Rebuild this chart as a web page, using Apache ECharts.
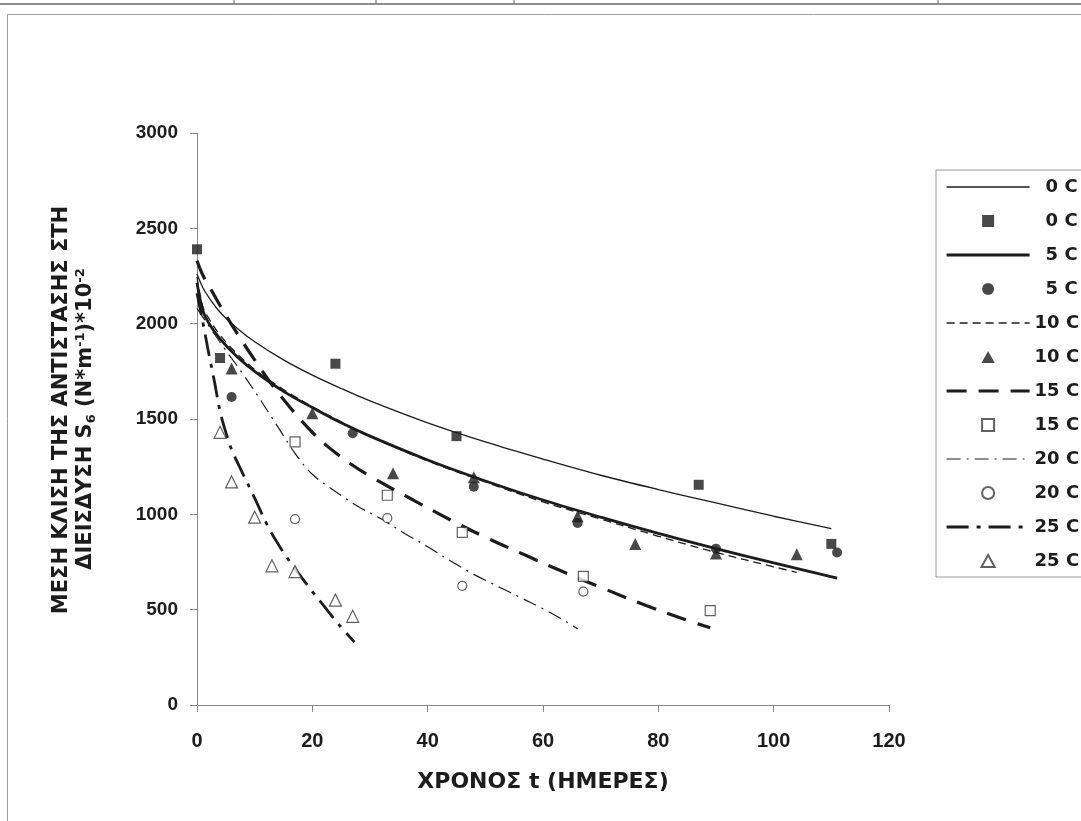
<!DOCTYPE html>
<html><head><meta charset="utf-8">
<script src="https://cdn.jsdelivr.net/npm/echarts@6/dist/echarts.min.js"></script>
<style>html,body{margin:0;padding:0;background:#fff}#c{width:1081px;height:821px}</style>
</head><body><div id="c"></div>
<script>
// ---- data ----
const xAxisMin = 0, xAxisMax = 120, xStep = 20;
const yAxisMin = 0, yAxisMax = 3000, yStep = 500;
const legendLabels = ['0 C','0 C','5 C','5 C','10 C','10 C','15 C','15 C','20 C','20 C','25 C','25 C'];

// measured points (days, value)
const pts0  = [[0,2390],[4,1820],[24,1790],[45,1410],[87,1155],[110,845]];
const pts5  = [[6,1615],[27,1425],[48,1145],[66,955],[90,820],[111,800]];
const pts10 = [[6,1765],[20,1530],[34,1215],[48,1195],[66,990],[76,845],[90,795],[104,790]];
const pts15 = [[17,1380],[33,1100],[46,905],[67,675],[89,495]];
const pts20 = [[17,975],[33,980],[46,625],[67,595]];
const pts25 = [[4,1430],[6,1170],[10,985],[13,730],[17,700],[24,550],[27,465]];

// fitted curves (days, value)
const fit0  = [[0,2260],[1,2190],[2,2140],[4,2060],[7,1975],[10,1905],[15,1810],[20,1730],[25,1660],[30,1595],[40,1480],[50,1380],[60,1290],[70,1205],[80,1130],[90,1060],[100,990],[110,925]];
const fit5  = [[0,2215],[1,2070],[2,2005],[4,1920],[7,1825],[10,1750],[15,1645],[20,1560],[25,1480],[30,1410],[40,1285],[50,1175],[60,1075],[70,985],[80,900],[90,820],[100,745],[111,665]];
const fit10 = [[0,2245],[1,2090],[2,2030],[4,1940],[7,1840],[10,1760],[15,1655],[20,1565],[25,1485],[30,1410],[40,1280],[50,1170],[60,1065],[70,975],[80,885],[90,800],[100,725],[104,695]];
const fit15 = [[0,2330],[1,2255],[2.5,2175],[4,2095],[6,1995],[8,1900],[10,1810],[14,1640],[20,1430],[25,1300],[30,1200],[37.5,1075],[44,970],[50,880],[57,785],[63,705],[71,605],[78,520],[84,455],[89,405]];
const fit20 = [[0,2080],[2,1990],[5,1860],[8,1735],[11,1600],[14,1460],[17,1320],[20,1210],[24,1120],[28,1040],[32,975],[36,900],[40,830],[44,755],[48,685],[52,625],[56,565],[60,505],[63,455],[66,400]];
const fit25 = [[0,2160],[1,2010],[2,1850],[3,1700],[4,1540],[5,1430],[6,1340],[8,1210],[10,1085],[12.5,925],[15,800],[17,715],[20,595],[22,520],[24.5,425],[27.3,330]];

const FONT = '"Liberation Sans", Arial, sans-serif';
const WIDE = '"DejaVu Sans", sans-serif';
const INK = '#1c1c1c';
const AXIS = '#8a8a8a';

function lineSeries(id, data, width, dash) {
  return { name: id, type: 'line', data: data, smooth: 0.35, symbol: 'none',
    lineStyle: { color: INK, width: width, type: dash }, itemStyle: { color: INK },
    z: 2, silent: true, animation: false };
}
function ptSeries(id, data, symbol, size, hollow) {
  return { name: id, type: 'scatter', data: data, symbol: symbol, symbolSize: size,
    itemStyle: hollow ? { color: '#ffffff', borderColor: '#3a3a3a', borderWidth: 1.2 } : { color: INK },
    z: 3, animation: false };
}

const series = [
  lineSeries('L0', fit0, 1.3, 'solid'),
  ptSeries('P0', pts0, 'rect', 10, false),
  lineSeries('L5', fit5, 2.8, 'solid'),
  ptSeries('P5', pts5, 'circle', 10, false),
  lineSeries('L10', fit10, 1.3, [8, 5]),
  ptSeries('P10', pts10, 'triangle', 12, false),
  lineSeries('L15', fit15, 3.2, [20, 12]),
  ptSeries('P15', pts15, 'rect', 10, true),
  lineSeries('L20', fit20, 1.2, [14, 6, 2, 6]),
  ptSeries('P20', pts20, 'circle', 9, true),
  lineSeries('L25', fit25, 2.8, [22, 8, 4, 8]),
  ptSeries('P25', pts25, 'triangle', 12, true)
];
const ids = series.map(s => s.name);
const labelOf = {};
ids.forEach((id, i) => labelOf[id] = legendLabels[i]);

const legendIconFor = { rect: 'path://M0,0L10,0L10,10L0,10Z', triangle: 'path://M5,0L10,9L0,9Z', circle: 'circle' };

const legendData = series.map((s, i) => {
  const item = { name: s.name, textStyle: { padding: [0, 0, 0, legendLabels[i].length < 4 ? 11 : 0] } };
  if (s.type === 'line') {
    item.itemStyle = { color: 'rgba(0,0,0,0)', borderColor: 'rgba(0,0,0,0)', borderWidth: 0, opacity: 0 };
    item.lineStyle = { width: s.lineStyle.width, type: s.lineStyle.type, color: INK };
  } else {
    item.icon = legendIconFor[s.symbol];
  }
  return item;
});

const chart = echarts.init(document.getElementById('c'), null, { renderer: 'canvas' });
chart.setOption({
  backgroundColor: '#ffffff',
  animation: false,
  grid: { left: 197, right: 192, top: 133, bottom: 116, containLabel: false, outerBoundsMode: 'none' },
  xAxis: {
    type: 'value', min: xAxisMin, max: xAxisMax, interval: xStep,
    name: 'ΧΡΟΝΟΣ t (ΗΜΕΡΕΣ)', nameLocation: 'middle', nameGap: 66,
    nameTextStyle: { fontFamily: WIDE, fontWeight: 'bold', fontSize: 22, color: INK },
    axisLine: { lineStyle: { color: AXIS, width: 1 } },
    axisTick: { show: true, inside: false, length: 7, lineStyle: { color: AXIS } },
    splitLine: { show: false },
    axisLabel: { fontFamily: FONT, fontWeight: 'bold', fontSize: 20, color: INK, margin: 26, formatter: v => String(v) }
  },
  yAxis: {
    type: 'value', min: yAxisMin, max: yAxisMax, interval: yStep,
    name: '{t1|ΜΕΣΗ ΚΛΙΣΗ ΤΗΣ ΑΝΤΙΣΤΑΣΗΣ ΣΤΗ}\n{t|ΔΙΕΙΣΔΥΣΗ S}{sub|6}{t| (N*m}{sup|-1}{t|)*10}{sup|-2}',
    nameLocation: 'middle', nameGap: 99, nameRotate: 90,
    nameTextStyle: {
      fontFamily: WIDE, fontWeight: 'bold', fontSize: 21, color: INK, lineHeight: 24,
      rich: {
        t1: { fontFamily: WIDE, fontWeight: 'bold', fontSize: 21, color: INK, lineHeight: 24, padding: [0, 0, 0, 18] },
        t: { fontFamily: WIDE, fontWeight: 'bold', fontSize: 21, color: INK, lineHeight: 24 },
        sub: { fontFamily: WIDE, fontWeight: 'bold', fontSize: 13, color: INK, lineHeight: 24, verticalAlign: 'bottom' },
        sup: { fontFamily: WIDE, fontWeight: 'bold', fontSize: 13, color: INK, lineHeight: 24, verticalAlign: 'top' }
      }
    },
    axisLine: { show: true, lineStyle: { color: AXIS, width: 1 } },
    axisTick: { show: true, inside: false, length: 7, lineStyle: { color: AXIS } },
    splitLine: { show: false },
    axisLabel: { fontFamily: FONT, fontWeight: 'bold', fontSize: 19, color: INK, margin: 19, formatter: v => String(v) }
  },
  legend: {
    orient: 'vertical', left: 936, top: 170,
    padding: [8, 12, 7, 9],
    borderColor: '#9a9a9a', borderWidth: 1, backgroundColor: '#ffffff',
    itemWidth: 83, itemHeight: 12, itemGap: 16,
    selectedMode: false,
    lineStyle: { width: 'inherit' },
    data: legendData,
    formatter: name => labelOf[name],
    textStyle: { fontFamily: WIDE, fontWeight: 'bold', fontSize: 18, color: INK, lineHeight: 18 }
  },
  graphic: [
    { type: 'rect', shape: { x: 7.5, y: 14.5, width: 1100, height: 900 }, style: { fill: 'none', stroke: '#a0a0a0', lineWidth: 1 }, silent: true, z: -1 },
    { type: 'line', shape: { x1: 0, y1: 4, x2: 1081, y2: 4 }, style: { stroke: '#6a6a6a', lineWidth: 1.5 }, silent: true },
    { type: 'line', shape: { x1: 234, y1: 0, x2: 234, y2: 4 }, style: { stroke: '#6a6a6a', lineWidth: 1 }, silent: true },
    { type: 'line', shape: { x1: 376, y1: 0, x2: 376, y2: 4 }, style: { stroke: '#6a6a6a', lineWidth: 1 }, silent: true },
    { type: 'line', shape: { x1: 514, y1: 0, x2: 514, y2: 4 }, style: { stroke: '#6a6a6a', lineWidth: 1 }, silent: true },
    { type: 'line', shape: { x1: 938, y1: 0, x2: 938, y2: 4 }, style: { stroke: '#6a6a6a', lineWidth: 1 }, silent: true }
  ],
  series: series
});
</script></body></html>
